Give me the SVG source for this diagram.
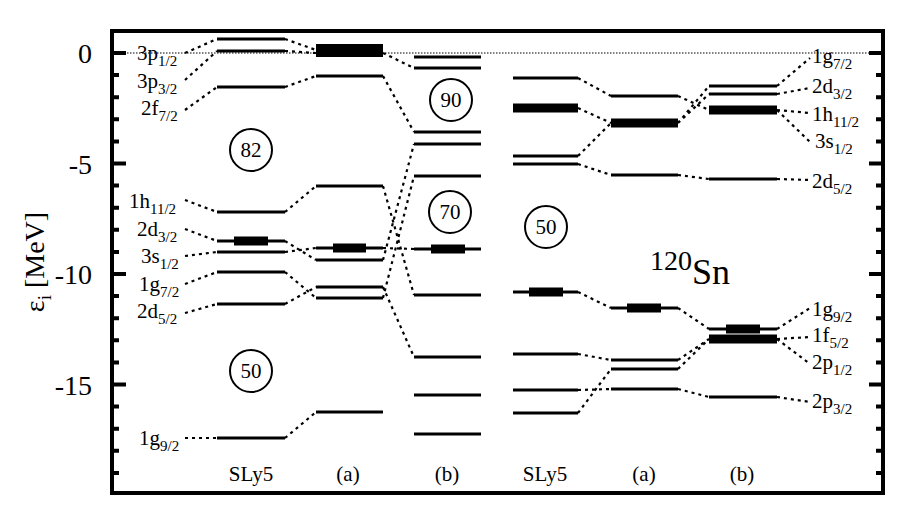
<svg xmlns="http://www.w3.org/2000/svg" width="900" height="525" viewBox="0 0 900 525" font-family="'Liberation Serif', 'DejaVu Serif', serif">
<style>
text{font-family:'Liberation Serif','DejaVu Serif',serif;fill:#000}
.lv{stroke:#000;stroke-width:3;fill:none}
.tk{stroke:#000;stroke-width:9;fill:none}
.dc{stroke:#000;stroke-width:2.2;stroke-dasharray:3 4;fill:none}
.ax{stroke:#000;stroke-width:4;fill:none}
.sb{font-size:15px}
.ct{font-size:21px;text-anchor:middle}
.cir{fill:none;stroke:#000;stroke-width:2}
.tl{font-size:28px;text-anchor:end}
</style>
<rect width="900" height="525" fill="#fff"/>
<g id="axes">
<rect class="ax" x="112" y="31" width="771" height="462"/>
<line x1="112" y1="53" x2="883" y2="53" stroke="#000" stroke-width="1.2" stroke-dasharray="1.5 1.5"/>
<path stroke="#000" stroke-width="4" d="M112 53h14M112 163.5h14M112 274h14M112 384.5h14M883 53h-14M883 163.5h-14M883 274h-14M883 384.5h-14"/>
<path stroke="#000" stroke-width="4" d="M112 75.1h7M112 97.2h7M112 119.3h7M112 141.4h7M112 185.6h7M112 207.7h7M112 229.8h7M112 251.9h7M112 296.1h7M112 318.2h7M112 340.3h7M112 362.4h7M112 406.6h7M112 428.7h7M112 450.8h7M112 472.9h7M883 75.1h-7M883 97.2h-7M883 119.3h-7M883 141.4h-7M883 185.6h-7M883 207.7h-7M883 229.8h-7M883 251.9h-7M883 296.1h-7M883 318.2h-7M883 340.3h-7M883 362.4h-7M883 406.6h-7M883 428.7h-7M883 450.8h-7M883 472.9h-7"/>
<text class="tl" x="92" y="63">0</text>
<text class="tl" x="92" y="174">-5</text>
<text class="tl" x="92" y="284">-10</text>
<text class="tl" x="92" y="395">-15</text>
<text transform="translate(44,262) rotate(-90)" font-size="28" text-anchor="middle" font-family="'Liberation Sans', sans-serif">ε<tspan font-size="19" dy="7">i</tspan><tspan dy="-7"> [MeV]</tspan></text>
</g>
<g id="connectors">
<path class="dc" d="M185 53L217 39M185 80L217 51M185 110L217 87M185 200L217 212M185 229L217 241M185 256L217 252M185 284L217 272M185 313L217 304M185 438L217 438"/>
<path class="dc" d="M285 39L316 50M285 51L316 53M285 87L316 76M285 212L316 186M285 241L316 260M285 252L316 248M285 272L316 298M285 304L316 287M285 438L316 412"/>
<path class="dc" d="M383 53L414 68M383 76L414 132M383 186L414 295M383 248L414 249M383 260L414 144M383 298L414 176M383 287L414 357"/>
<path class="dc" d="M578 78L611 96M578 108L611 123M578 156L611 123M578 164L611 175M578 292L611 308M578 354L611 360M578 390L611 389M578 413L611 369"/>
<path class="dc" d="M678 96L709 110M678 123L709 86M678 123L709 94M678 175L709 179M678 308L709 329M678 360L709 339M678 369L709 339M678 389L709 397"/>
<path class="dc" d="M777 86L810 58M777 94L810 88M777 110L810 113M777 110L810 142M777 179L810 180M777 329L810 308M777 339L810 337M777 339L810 364M777 397L810 402"/>
</g>
<g id="sly5-left">
<path class="lv" d="M217 39h68M217 51h68M217 87h68M217 212h68M217 241h68M217 252h68M217 272h68M217 304h68M217 438h68"/>
<path class="tk" d="M234 241h34" stroke-width="8"/>
</g>
<g id="a-left">
<rect x="316" y="44" width="67" height="13"/>
<path class="lv" d="M316 76h67M316 186h67M316 248h67M316 260h67M316 287h67M316 298h67M316 412h67"/>
<path class="tk" d="M333 248h33" stroke-width="8"/>
</g>
<g id="b-left">
<path class="lv" d="M414 57h67M414 68h67M414 132h67M414 144h67M414 176h67M414 249h67M414 295h67M414 357h67M414 395h67M414 434h67"/>
<path class="tk" d="M431 249h34" stroke-width="8"/>
</g>
<g id="sly5-right">
<path class="lv" d="M513 78h65M513 156h65M513 164h65M513 292h65M513 354h65M513 390h65M513 413h65"/>
<path class="tk" d="M513 108h65" stroke-width="6"/>
<path class="tk" d="M529 292h34" stroke-width="8"/>
</g>
<g id="a-right">
<path class="lv" d="M611 96h67M611 175h67M611 308h67M611 360h67M611 369h67M611 389h67"/>
<path class="tk" d="M611 123h67" stroke-width="5"/>
<path class="tk" d="M627 308h34" stroke-width="8"/>
</g>
<g id="b-right">
<path class="lv" d="M709 86h68M709 94h68M709 179h68M709 329h68M709 397h68"/>
<path class="tk" d="M709 110h68" stroke-width="6"/>
<path class="tk" d="M709 339h68" stroke-width="7"/>
<path class="tk" d="M726 329h34" stroke-width="8"/>
</g>
<g id="left-labels">
<text x="137" y="60" font-size="21">3p<tspan class="sb" dy="6">1/2</tspan></text>
<text x="137" y="88" font-size="21">3p<tspan class="sb" dy="6">3/2</tspan></text>
<text x="141" y="115" font-size="21">2f<tspan class="sb" dy="6">7/2</tspan></text>
<text x="129" y="208" font-size="21">1h<tspan class="sb" dy="6">11/2</tspan></text>
<text x="137" y="236" font-size="21">2d<tspan class="sb" dy="6">3/2</tspan></text>
<text x="141" y="263" font-size="21">3s<tspan class="sb" dy="6">1/2</tspan></text>
<text x="139" y="291" font-size="21">1g<tspan class="sb" dy="6">7/2</tspan></text>
<text x="137" y="318" font-size="21">2d<tspan class="sb" dy="6">5/2</tspan></text>
<text x="139" y="445" font-size="21">1g<tspan class="sb" dy="6">9/2</tspan></text>
</g>
<g id="right-labels">
<text x="812" y="63" font-size="21">1g<tspan class="sb" dy="6">7/2</tspan></text>
<text x="812" y="93" font-size="21">2d<tspan class="sb" dy="6">3/2</tspan></text>
<text x="812" y="121" font-size="21">1h<tspan class="sb" dy="6">11/2</tspan></text>
<text x="815" y="148" font-size="21">3s<tspan class="sb" dy="6">1/2</tspan></text>
<text x="812" y="188" font-size="21">2d<tspan class="sb" dy="6">5/2</tspan></text>
<text x="812" y="316" font-size="21">1g<tspan class="sb" dy="6">9/2</tspan></text>
<text x="812" y="342" font-size="21">1f<tspan class="sb" dy="6">5/2</tspan></text>
<text x="812" y="369" font-size="21">2p<tspan class="sb" dy="6">1/2</tspan></text>
<text x="812" y="408" font-size="21">2p<tspan class="sb" dy="6">3/2</tspan></text>
</g>
<g id="magic">
<circle class="cir" cx="251" cy="150" r="21"/><text class="ct" x="251" y="157">82</text>
<circle class="cir" cx="251" cy="371" r="21"/><text class="ct" x="251" y="378">50</text>
<circle class="cir" cx="451" cy="100" r="21"/><text class="ct" x="451" y="107">90</text>
<circle class="cir" cx="450" cy="212" r="21"/><text class="ct" x="450" y="219">70</text>
<circle class="cir" cx="546" cy="227" r="21"/><text class="ct" x="546" y="234">50</text>
</g>
<g id="columns">
<text class="ct" x="251" y="481">SLy5</text>
<text class="ct" x="348" y="481">(a)</text>
<text class="ct" x="447" y="481">(b)</text>
<text class="ct" x="545" y="481">SLy5</text>
<text class="ct" x="644" y="481">(a)</text>
<text class="ct" x="742" y="481">(b)</text>
</g>
<text x="650" y="270" font-size="28">120<tspan font-size="36" dy="14">Sn</tspan></text>
</svg>
